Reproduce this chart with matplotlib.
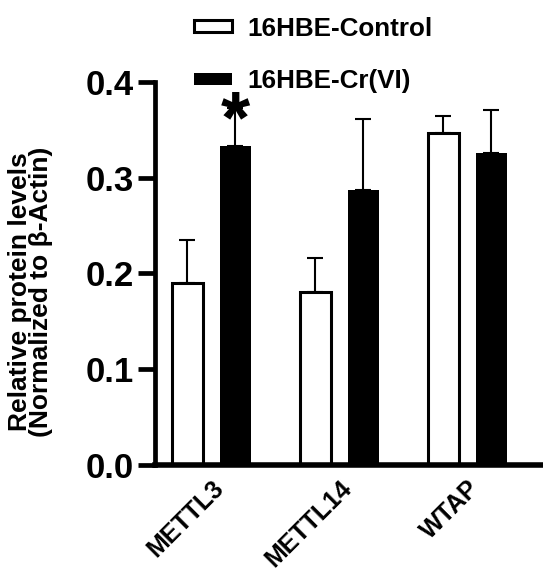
#!/usr/bin/env python3
"""
Relative protein levels of m6A writers (METTL3, METTL14, WTAP)
16HBE-Control vs 16HBE-Cr(VI), bars with upward SEM error bars
"""

import numpy as np
import matplotlib
matplotlib.use("Agg")
import matplotlib.pyplot as plt

plt.rcParams['font.family'] = ['Liberation Sans', 'DejaVu Sans']
plt.rcParams['font.weight'] = 'bold'

# data
proteins = ['METTL3', 'METTL14', 'WTAP']
control_mean = [0.190, 0.181, 0.347]
control_err = [0.045, 0.035, 0.017]
crvi_mean = [0.333, 0.287, 0.326]
crvi_err = [0.040, 0.074, 0.045]
significant = [True, False, False]
series_labels = ['16HBE-Control', '16HBE-Cr(VI)']
y_ticks = [0.0, 0.1, 0.2, 0.3, 0.4]


def main():
    fig = plt.figure(figsize=(5.43, 5.75), dpi=100)
    ax = fig.add_axes([0.2855, 0.1913, 0.7145, 0.6661])

    x = np.arange(len(proteins))
    width = 0.242
    offset = 0.1875

    # bars
    ax.bar(x - offset, control_mean, width, color='white', edgecolor='black',
           linewidth=2.2, label=series_labels[0], zorder=2)
    ax.bar(x + offset, crvi_mean, width, color='black', edgecolor='black',
           linewidth=0, label=series_labels[1], zorder=2)

    # upward-only error bars
    zeros = [0] * len(proteins)
    ax.errorbar(x - offset, control_mean, yerr=[zeros, control_err], fmt='none',
                ecolor='black', elinewidth=1.5, capsize=6, capthick=1.5, zorder=1)
    ax.errorbar(x + offset, crvi_mean, yerr=[zeros, crvi_err], fmt='none',
                ecolor='black', elinewidth=1.5, capsize=6, capthick=1.5, zorder=1)

    # significance marks
    for i, sig in enumerate(significant):
        if sig:
            ax.text(x[i] + offset, crvi_mean[i] + crvi_err[i] - 0.016, '*',
                    ha='center', va='center', fontsize=54, fontweight='bold',
                    zorder=3)

    # axes styling
    ax.set_xlim(-0.4375, 2.59)
    ax.set_ylim(0, 0.4)
    ax.set_yticks(y_ticks)
    ax.set_yticklabels([f"{t:.1f}" for t in y_ticks], fontsize=25, fontweight='bold')
    ax.set_xticks(x)
    ax.set_xticklabels(proteins, fontsize=18, fontweight='bold', rotation=45,
                       ha='right', va='top', rotation_mode='anchor')

    for side in ['top', 'right']:
        ax.spines[side].set_visible(False)
    ax.spines['left'].set_linewidth(3.4)
    ax.spines['bottom'].set_linewidth(4.0)
    ax.tick_params(axis='y', length=12, width=3.4, pad=3.5)
    ax.tick_params(axis='x', length=0, pad=8)

    ax.set_ylabel('Relative protein levels\n(Normalized to \u03b2-Actin)',
                  fontsize=19, fontweight='bold', linespacing=0.85)
    ax.yaxis.set_label_coords(-0.262, 0.452)

    ax.legend(loc='upper left', bbox_to_anchor=(0.357, 0.971),
              bbox_transform=fig.transFigure, frameon=False, fontsize=18.7,
              handlelength=1.45, handleheight=0.35, labelspacing=1.1,
              handletextpad=0.6, borderpad=0, borderaxespad=0)

    fig.savefig('out.png', dpi=100)


if __name__ == "__main__":
    main()
